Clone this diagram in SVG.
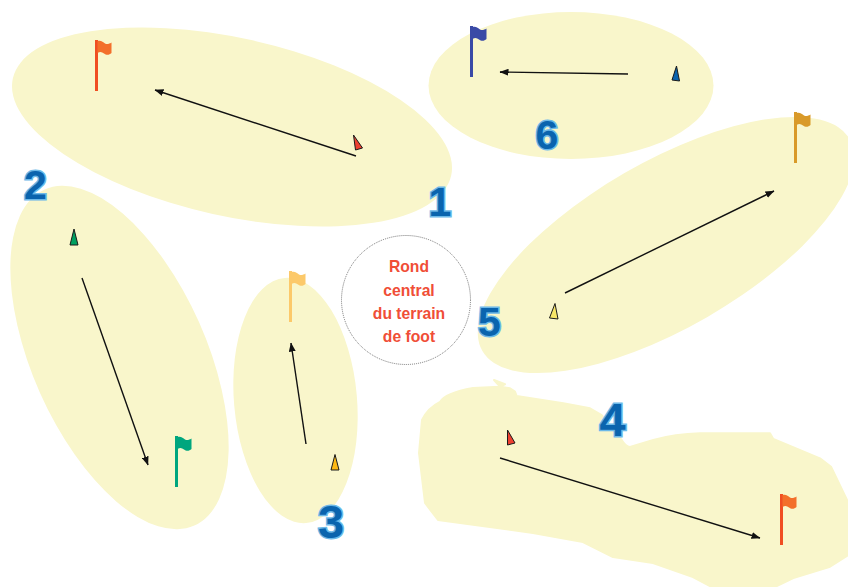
<svg xmlns="http://www.w3.org/2000/svg" width="848" height="587" viewBox="0 0 848 587">
<style>
.zone{fill:#f9f6cb}
.pole{stroke-width:3;fill:none}
.sail{stroke:#1a1a1a;stroke-width:1;stroke-linejoin:miter}
.arrow{stroke:#111;stroke-width:1.4;fill:none;marker-end:url(#head)}
.num{font-family:"Liberation Sans",Arial,sans-serif;font-weight:700;fill:#0a64ae;stroke:#6cb9e8;stroke-width:3px;paint-order:stroke;text-anchor:middle}
.lbl{font-family:"Liberation Sans",Arial,sans-serif;font-weight:700;font-size:15.700px;fill:#f04e37;text-anchor:middle}
</style>
<defs>
<marker id="head" viewBox="0 0 9 7" refX="8.500" refY="3.500" markerWidth="9" markerHeight="7" markerUnits="userSpaceOnUse" orient="auto"><path d="M0 0L9 3.500L0 7z" fill="#111"/></marker>
<path id="cloth" d="M-0.500 0C3 -1 5 1 7 2.500C9 3.500 11 3 13.500 1.500L13.500 12C11 14.500 8 14 6 12.500C4 11 2 10.500 -0.500 12z"/>
</defs>
<g id="zones">
<ellipse id="zone1" class="zone" cx="232" cy="127" rx="224.500" ry="89" transform="rotate(12.500 232 127)"/>
<ellipse id="zone2" class="zone" cx="119.500" cy="357.500" rx="87" ry="184" transform="rotate(-24 119.500 357.500)"/>
<ellipse id="zone3" class="zone" cx="295.500" cy="400.500" rx="61.500" ry="123" transform="rotate(-5 295.500 400.500)"/>
<path id="zone4" class="zone" stroke="#f9f6cb" stroke-width="2" stroke-linejoin="round" d="M494 380L505 384.300L500 386.700L510 388.300L515 391.700L516.700 396L563.300 403.300L590 408.300L601.700 415L613.300 430L621.700 440Q626 447 630 447Q640 444 653.300 440Q675 434 700 433.300L770 433.300L773.300 439L820 458.300L831 466.700L847 500L847 556L830 566.700L793.300 578L776.700 586L710 586L693 577L653 563L613 557L583 542L533 533L438 520L425 503L419 453L422 420Q428 408 440 402Q445 393 473 388L500 386.700z"/>
<ellipse id="zone5" class="zone" cx="666" cy="245" rx="212" ry="83" transform="rotate(-30 666 245)"/>
<ellipse id="zone6" class="zone" cx="571" cy="85.500" rx="142.500" ry="73.500"/>
</g>
<g id="center"><circle cx="406" cy="300" r="64.500" fill="#fff" stroke="#555" stroke-width="0.800" stroke-dasharray="1 1"/>
<text class="lbl" x="409" y="272">Rond</text><text class="lbl" x="409" y="295.500">central</text><text class="lbl" x="409" y="318.500">du terrain</text><text class="lbl" x="409" y="341.500">de foot</text></g>
<g id="connectors">
<line class="arrow" x1="356" y1="156" x2="155" y2="90"/>
<line class="arrow" x1="82" y1="278" x2="148" y2="465"/>
<line class="arrow" x1="306" y1="444" x2="291" y2="343"/>
<line class="arrow" x1="500" y1="458" x2="760" y2="538"/>
<line class="arrow" x1="565" y1="293" x2="774" y2="191"/>
<line class="arrow" x1="628" y1="74" x2="500" y2="72"/>
</g>
<g id="start1"><polygon class="sail" fill="#ee4030" points="353.500,135 362.500,148 355.500,150"/></g>
<g id="start2"><polygon class="sail" fill="#00a060" points="74,229 78,245 70,245"/></g>
<g id="start3"><polygon class="sail" fill="#fdb913" points="335,454.500 339,470 331,470"/></g>
<g id="start4"><polygon class="sail" fill="#ee4030" points="507.500,430 515,443 507.500,445"/></g>
<g id="start5"><polygon class="sail" fill="#f7e668" points="555,303.500 558,319 549.500,318"/></g>
<g id="start6"><polygon class="sail" fill="#0a64ae" points="676.500,66 679.500,81 672,80"/></g>
<g id="flag1"><line class="pole" x1="96.500" y1="40" x2="96.500" y2="91" stroke="#f04e23"/><use href="#cloth" x="98" y="41" fill="#f36f2b"/></g>
<g id="flag2"><line class="pole" x1="176.500" y1="436" x2="176.500" y2="487" stroke="#00a67e"/><use href="#cloth" x="178" y="437" fill="#00a67e"/></g>
<g id="flag3"><line class="pole" x1="290.500" y1="271" x2="290.500" y2="322" stroke="#fcc96a"/><use href="#cloth" x="292" y="272" fill="#fcc96a"/></g>
<g id="flag4"><line class="pole" x1="781.500" y1="494" x2="781.500" y2="545" stroke="#f04e23"/><use href="#cloth" x="783" y="495" fill="#f36f2b"/></g>
<g id="flag5"><line class="pole" x1="795.500" y1="112" x2="795.500" y2="163" stroke="#d99a29"/><use href="#cloth" x="797" y="113" fill="#d99a29"/></g>
<g id="flag6"><line class="pole" x1="471.500" y1="26" x2="471.500" y2="77" stroke="#3a4aa6"/><use href="#cloth" x="473" y="27" fill="#3a4aa6"/></g>
<g id="labels">
<text class="num" x="440" y="215.500" font-size="41">1</text>
<text class="num" x="35.500" y="198.500" font-size="41">2</text>
<text class="num" x="331" y="538" font-size="47">3</text>
<text class="num" x="612.500" y="436" font-size="47">4</text>
<text class="num" x="489.500" y="335.500" font-size="41">5</text>
<text class="num" x="547" y="148.500" font-size="41">6</text>
</g>
</svg>
